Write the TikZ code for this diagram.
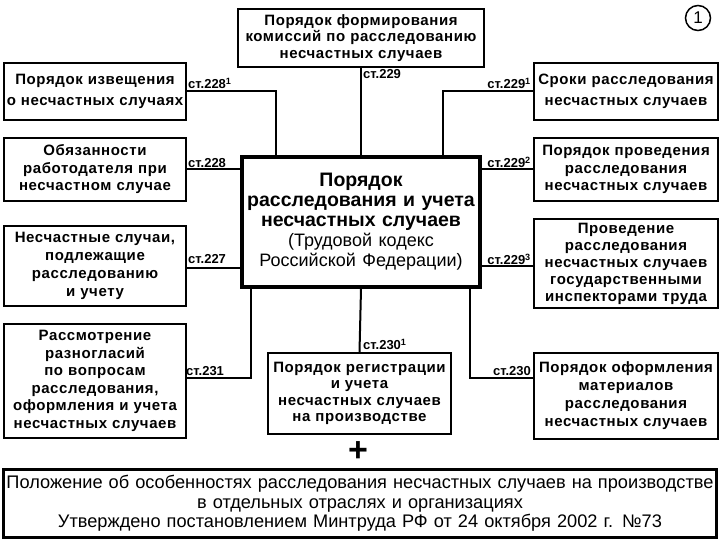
\documentclass[tikz,border=0pt]{standalone}
\usepackage{fontspec}
\setmainfont{Liberation Sans}
\newfontfamily\boxfont[LetterSpace=4]{Liberation Sans}
\begin{document}
\begin{tikzpicture}[x=1pt,y=1pt,
  box/.style={draw, line width=2pt, inner sep=0pt, anchor=north west, align=center,
    font=\boxfont\bfseries\fontsize{15}{17.5}\selectfont},
  conn/.style={line width=2pt},
  lab/.style={font=\bfseries\fontsize{13}{13}\selectfont, inner sep=1pt}]
\useasboundingbox (0,0) rectangle (720,-540);
\fill[white] (0,0) rectangle (720,-540);
% boxes
\node[box, minimum width=246pt, minimum height=58pt, text width=242pt,
  font=\boxfont\bfseries\fontsize{15}{16.5}\selectfont] (top) at (237,-8)
  {Порядок формирования\\комиссий по расследованию\\несчастных случаев};
\node[box, minimum width=182pt, minimum height=57pt, text width=180pt, font=\boxfont\bfseries\fontsize{15}{21}\selectfont] (L1) at (3,-62)
  {Порядок извещения\\о несчастных случаях};
\node[box, minimum width=182pt, minimum height=63pt, text width=180pt] (L2) at (3,-137)
  {Обязанности\\работодателя при\\несчастном случае};
\node[box, minimum width=182pt, minimum height=80pt, text width=180pt, font=\boxfont\bfseries\fontsize{15}{18}\selectfont] (L3) at (3,-225)
  {Несчастные случаи,\\подлежащие\\расследованию\\и учету};
\node[box, minimum width=182pt, minimum height=114pt, text width=180pt] (L4) at (3,-323)
  {Рассмотрение\\разногласий\\по вопросам\\расследования,\\оформления и учета\\несчастных случаев};
\node[box, line width=4pt, minimum width=238pt, minimum height=130pt, text width=236pt,
  font=\bfseries\fontsize{19.5}{20}\selectfont] (C) at (240,-155)
  {Порядок\\расследования и учета\\несчастных случаев\\
   {\mdseries\fontsize{18}{20}\selectfont (Трудовой кодекс}\\
   {\mdseries\fontsize{18}{20}\selectfont Российской Федерации)}};
\node[box, minimum width=184pt, minimum height=57pt, text width=182pt, font=\boxfont\bfseries\fontsize{15}{21}\selectfont] (R1) at (533,-62)
  {Сроки расследования\\несчастных случаев};
\node[box, minimum width=184pt, minimum height=63pt, text width=182pt] (R2) at (533,-137)
  {Порядок проведения\\расследования\\несчастных случаев};
\node[box, minimum width=184pt, minimum height=89pt, text width=182pt, font=\boxfont\bfseries\fontsize{15}{17}\selectfont] (R3) at (533,-218)
  {Проведение\\расследования\\несчастных случаев\\государственными\\инспекторами труда};
\node[box, minimum width=184pt, minimum height=86pt, text width=182pt, font=\boxfont\bfseries\fontsize{15}{18}\selectfont] (R4) at (533,-352)
  {Порядок оформления\\материалов\\расследования\\несчастных случаев};
\node[box, minimum width=183pt, minimum height=81pt, text width=181pt,
  font=\boxfont\bfseries\fontsize{15}{16.5}\selectfont] (B) at (267,-352)
  {Порядок регистрации\\и учета\\несчастных случаев\\на производстве};
\node[box, line width=3pt, minimum width=713pt, minimum height=68pt, text width=711pt,
  font=\fontsize{18.2}{19.5}\selectfont] (N) at (2,-468)
  {Положение об особенностях расследования несчастных случаев на производстве\\
   в отдельных отраслях и организациях\\
   Утверждено постановлением Минтруда РФ от 24 октября 2002 г. №73};
% circle and plus
\node[draw, circle, line width=1.5pt, minimum size=25pt, inner sep=0pt,
  font=\fontsize{17}{17}\selectfont] (one) at (698,-18) {1};
\node[inner sep=0pt, font=\bfseries\fontsize{34}{34}\selectfont] (plus) at (358,-452) {+};
% connection points on the centre box
\coordinate (cL1) at (276,-155);
\coordinate (cL4) at (251,-285);
\coordinate (cR1) at (443,-155);
\coordinate (cR4) at (470,-285);
% connectors
\draw[conn] (L1.east) -| (cL1);
\draw[conn] (L2.east) -- (L2.east -| C.west);
\draw[conn] ([yshift=-2pt]L3.east) -- ([yshift=-2pt]L3.east -| C.west);
\draw[conn] ([yshift=3pt]L4.east) -| (cL4);
\draw[conn] (top.south) -- (top.south |- C.north);
\draw[conn] (R1.west) -| (cR1);
\draw[conn] (R2.west) -- (R2.west -| C.east);
\draw[conn] ([yshift=-2pt]R3.west) -- ([yshift=-2pt]R3.west -| C.east);
\draw[conn] ([yshift=18pt]R4.west) -| (cR4);
\draw[conn] (C.south) -- (B.north);
% labels
\node[lab, anchor=south west] (t1) at (187,-90) {ст.228\textsuperscript{1}};
\node[lab, anchor=south west] (t2) at (187,-169) {ст.228};
\node[lab, anchor=south west] (t3) at (187,-265) {ст.227};
\node[lab, anchor=south west] (t4) at (185,-377) {ст.231};
\node[lab, anchor=north west] (t5) at (362,-68) {ст.229};
\node[lab, anchor=south east] (t6) at (532,-90) {ст.229\textsuperscript{1}};
\node[lab, anchor=south east] (t7) at (532,-169) {ст.229\textsuperscript{2}};
\node[lab, anchor=south east] (t8) at (532,-266) {ст.229\textsuperscript{3}};
\node[lab, anchor=south east] (t9) at (532,-377) {ст.230};
\node[lab, anchor=south west] (t10) at (362,-351) {ст.230\textsuperscript{1}};
\end{tikzpicture}
\end{document}
